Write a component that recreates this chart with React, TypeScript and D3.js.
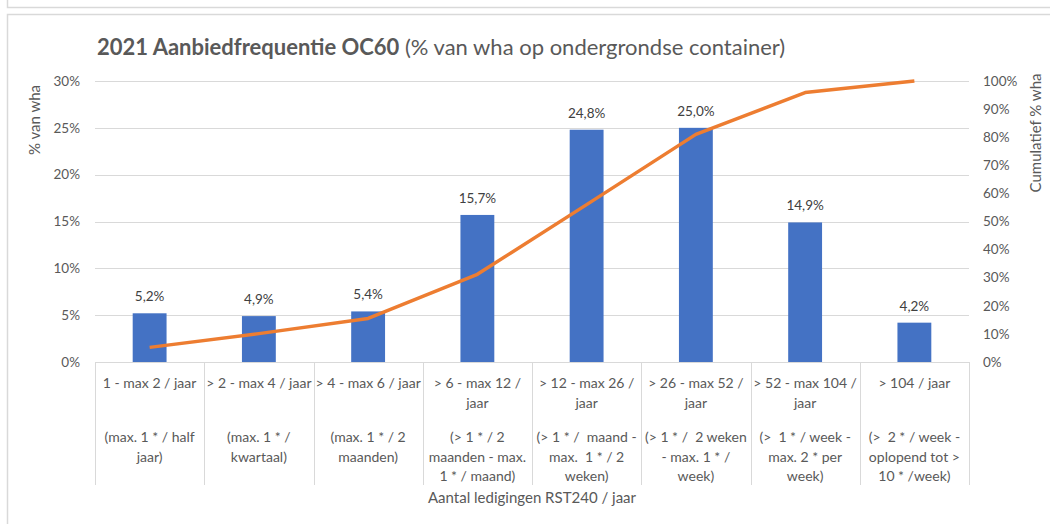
import React, { useEffect, useRef } from 'react';
import * as d3 from 'd3';

// Data
const categories = ['c1', 'c2', 'c3', 'c4', 'c5', 'c6', 'c7', 'c8'];
const categoryLabels: string[][] = [
  ['1 - max 2 / jaar', '', '(max. 1 * / half', 'jaar)'],
  ['> 2 - max 4 / jaar', '', '(max. 1 * /', 'kwartaal)'],
  ['> 4 - max 6 / jaar', '', '(max. 1 * / 2', 'maanden)'],
  ['> 6 - max 12 /', 'jaar', '(> 1 * / 2', 'maanden - max.', '1 * / maand)'],
  ['> 12 - max 26 /', 'jaar', '(> 1 * /  maand -', 'max.  1 * / 2', 'weken)'],
  ['> 26 - max 52 /', 'jaar', '(> 1 * /  2 weken', '- max. 1 * /', 'week)'],
  ['> 52 - max 104 /', 'jaar', '(>  1 * / week -', 'max. 2 * per', 'week)'],
  ['> 104 / jaar', '', '(>  2 * / week -', 'oplopend tot >', '10 * /week)'],
];
const pctWha = [5.2, 4.9, 5.4, 15.7, 24.8, 25.0, 14.9, 4.2];
const cumulativePct = [5.2, 10.1, 15.5, 31.2, 56.0, 81.0, 95.9, 100.0];
const leftTicks = [0, 5, 10, 15, 20, 25, 30];
const rightTicks = [0, 10, 20, 30, 40, 50, 60, 70, 80, 90, 100];

const W = 1050;
const H = 524;
const FONT = 'Lato, "Open Sans", sans-serif';
const TEXT = '#595959';
const GRID = '#d9d9d9';

export default function App() {
  const svgRef = useRef<SVGSVGElement>(null);

  useEffect(() => {
    const svg = d3.select(svgRef.current);
    svg.selectAll('*').remove();

    const plot = { left: 95, right: 969, top: 81, bottom: 362 };

    const x = d3.scaleBand<string>().domain(categories).range([plot.left, plot.right]).padding(0);
    const yL = d3.scaleLinear().domain([0, 30]).range([plot.bottom, plot.top]);
    const yR = d3.scaleLinear().domain([0, 100]).range([plot.bottom, plot.top]);
    const barW = x.bandwidth() * 0.31;
    const fmt = (v: number) => d3.format('.1f')(v).replace('.', ',') + '%';

    // frames
    svg.append('path')
      .attr('d', 'M7.5,0 V7.5 H1050')
      .attr('fill', 'none').attr('stroke', GRID).attr('stroke-width', 1.5);
    svg.append('path')
      .attr('d', 'M7.5,524 V14.5 H1050')
      .attr('fill', 'none').attr('stroke', GRID).attr('stroke-width', 1.5);

    // title
    const title = svg.append('text')
      .attr('x', 97).attr('y', 55)
      .style('font-family', FONT).style('font-size', '22px').attr('fill', TEXT);
    title.append('tspan').attr('font-weight', 'bold').text('2021 Aanbiedfrequentie OC60');
    title.append('tspan').text(' (% van wha op ondergrondse container)');

    // gridlines
    svg.append('g').selectAll('line').data(leftTicks.filter(d => d > 0)).join('line')
      .attr('x1', plot.left).attr('x2', plot.right)
      .attr('y1', d => Math.round(yL(d)) + 0.5).attr('y2', d => Math.round(yL(d)) + 0.5)
      .attr('stroke', GRID).attr('stroke-width', 1);

    // left axis labels
    svg.append('g').selectAll('text').data(leftTicks).join('text')
      .attr('x', 80).attr('y', d => yL(d)).attr('dy', '0.35em')
      .attr('text-anchor', 'end').attr('fill', TEXT)
      .style('font-family', FONT).style('font-size', '13.5px')
      .text(d => d + '%');

    // right axis labels
    svg.append('g').selectAll('text').data(rightTicks).join('text')
      .attr('x', 983).attr('y', d => yR(d)).attr('dy', '0.35em')
      .attr('text-anchor', 'start').attr('fill', TEXT)
      .style('font-family', FONT).style('font-size', '13.5px')
      .text(d => d + '%');

    // axis titles
    svg.append('text')
      .attr('transform', 'translate(40,120) rotate(-90)')
      .attr('text-anchor', 'middle').attr('fill', TEXT)
      .style('font-family', FONT).style('font-size', '15px')
      .text('% van wha');
    svg.append('text')
      .attr('transform', 'translate(1041,133) rotate(-90)')
      .attr('text-anchor', 'middle').attr('fill', TEXT)
      .style('font-family', FONT).style('font-size', '15px')
      .text('Cumulatief % wha');

    // bars
    svg.append('g').selectAll('rect').data(pctWha).join('rect')
      .attr('x', (d, i) => x(categories[i])! + (x.bandwidth() - barW) / 2)
      .attr('y', d => yL(d))
      .attr('width', barW)
      .attr('height', d => plot.bottom - yL(d))
      .attr('fill', '#4472C4');

    // bar labels
    svg.append('g').selectAll('text').data(pctWha).join('text')
      .attr('x', (d, i) => x(categories[i])! + x.bandwidth() / 2)
      .attr('y', d => yL(d) - 12)
      .attr('text-anchor', 'middle').attr('fill', '#404040')
      .style('font-family', FONT).style('font-size', '13.5px')
      .text(d => fmt(d));

    // x axis baseline + category separators
    svg.append('line')
      .attr('x1', plot.left).attr('x2', plot.right)
      .attr('y1', plot.bottom + 0.5).attr('y2', plot.bottom + 0.5)
      .attr('stroke', GRID).attr('stroke-width', 1);
    const seps = categories.map(c => x(c)!).concat([plot.right]);
    svg.append('g').selectAll('line').data(seps).join('line')
      .attr('x1', d => Math.round(d) + 0.5).attr('x2', d => Math.round(d) + 0.5)
      .attr('y1', plot.bottom).attr('y2', 485)
      .attr('stroke', GRID).attr('stroke-width', 1);

    // cumulative line
    const line = d3.line<number>()
      .x((d, i) => x(categories[i])! + x.bandwidth() / 2)
      .y(d => yR(d));
    svg.append('path')
      .datum(cumulativePct)
      .attr('d', line)
      .attr('fill', 'none')
      .attr('stroke', '#ED7D31')
      .attr('stroke-width', 3.5)
      .attr('stroke-linejoin', 'round');

    // category labels
    const slotY = [383, 403, 437, 457, 476];
    const cat = svg.append('g').selectAll('g').data(categoryLabels).join('g');
    cat.each(function (lines, i) {
      const g = d3.select(this);
      lines.forEach((t, j) => {
        if (!t) return;
        g.append('text')
          .attr('x', x(categories[i])! + x.bandwidth() / 2)
          .attr('y', slotY[j]).attr('dy', '0.35em')
          .attr('text-anchor', 'middle').attr('fill', TEXT)
          .style('font-family', FONT).style('font-size', '14px')
          .style('white-space', 'pre')
          .text(t);
      });
    });

    svg.append('text')
      .attr('x', (plot.left + plot.right) / 2).attr('y', 498).attr('dy', '0.35em')
      .attr('text-anchor', 'middle').attr('fill', TEXT)
      .style('font-family', FONT).style('font-size', '15px')
      .text('Aantal ledigingen RST240 / jaar');
  }, []);

  return (
    <svg
      ref={svgRef}
      width={W}
      height={H}
      style={{ position: 'absolute', left: 0, top: 0, background: '#fff' }}
    />
  );
}
